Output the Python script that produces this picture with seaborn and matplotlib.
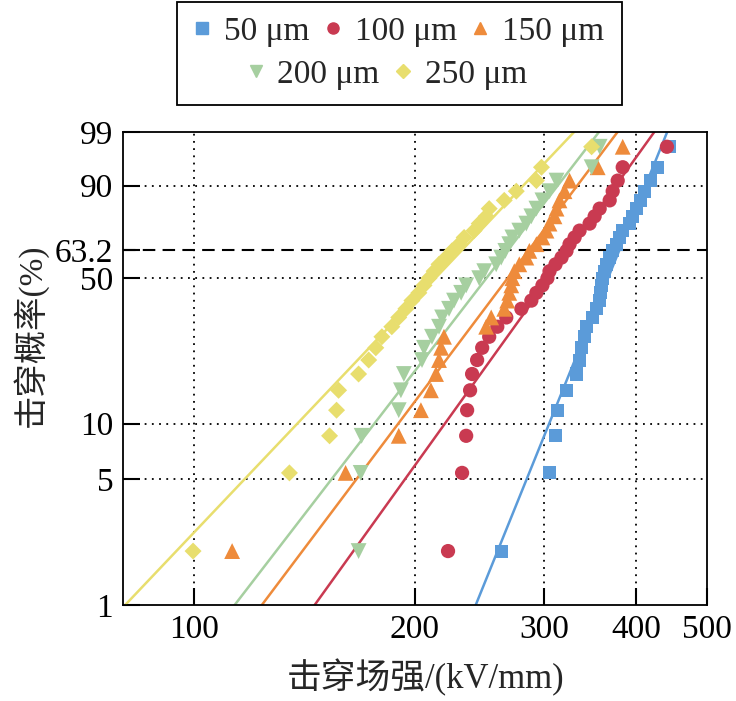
import numpy as np
import pandas as pd
import matplotlib
matplotlib.use("Agg")
import matplotlib.pyplot as plt
from matplotlib.lines import Line2D
from matplotlib.patches import Rectangle
import seaborn as sns

THICKNESS = ["50 μm", "100 μm", "150 μm", "200 μm", "250 μm"]
COLORS = ["#5B9BD9", "#C93A51", "#EE8B3B", "#A6CFA0", "#E8DE6E"]
MARKERS = ["s", "o", "^", "v", "D"]
MARKER_AREA = [88, 105, 130, 130, 75]

# 击穿概率 (%)，各组共用的秩
PROB = [2.0, 5.41, 8.60, 11.78, 14.97, 18.15, 21.34, 24.52, 27.71, 30.89,
        34.08, 37.26, 40.45, 43.63, 46.82, 50.00, 53.18, 56.37, 59.55, 62.74,
        65.92, 69.11, 72.29, 75.48, 78.66, 81.85, 85.03, 88.22, 91.40, 94.59,
        97.77]

# 击穿场强 (kV/mm)
E_50 = [262.2, 305.1, 310.9, 312.8, 321.8, 332.1, 335.3, 337.4, 340.6, 342.8,
        349.3, 353.8, 357.1, 358.3, 359.4, 360.5, 362.8, 365.1, 368.5, 372.0,
        376.8, 380.3, 383.9, 392.5, 396.3, 401.3, 406.4, 411.5, 419.4, 428.7,
        445.2]
E_100 = [221.9, 231.9, 234.9, 235.6, 237.8, 239.3, 243.1, 247.0, 252.5, 259.0,
         266.4, 279.3, 288.2, 292.8, 298.4, 303.1, 305.1, 310.9, 316.8, 321.8,
         324.9, 330.1, 335.3, 346.0, 351.5, 357.1, 368.5, 372.0, 377.9, 383.9,
         441.0]
E_150 = [112.7, 160.9, 190.1, 203.8, 210.3, 213.7, 215.7, 217.1, 219.1, 250.1,
         254.1, 264.7, 267.2, 268.9, 270.6, 271.5, 273.2, 277.5, 283.7, 286.4,
         292.8, 298.4, 302.2, 305.1, 309.9, 311.9, 314.8, 319.8, 324.9, 354.9,
         383.9]
E_200 = [167.6, 168.7, 169.2, 190.1, 191.4, 193.2, 204.5, 205.8, 211.0, 215.7,
         217.8, 222.6, 226.1, 231.2, 234.9, 244.7, 248.6, 258.1, 262.2, 265.6,
         268.9, 271.5, 277.5, 283.7, 288.2, 292.8, 298.4, 305.1, 311.9, 348.2,
         357.1]
E_250 = [99.7, 134.9, 153.0, 156.4, 157.4, 167.6, 173.0, 176.9, 180.3, 186.0,
         190.1, 194.4, 198.1, 202.5, 205.8, 209.0, 212.4, 215.7, 220.5, 224.7,
         229.7, 233.4, 240.8, 244.7, 250.1, 252.5, 264.7, 274.9, 292.8, 297.5,
         348.2]

# Weibull 拟合参数
SCALE = [380, 325, 286, 268, 232]
SHAPE = [10.2, 5.75, 5.49, 5.36, 4.35]

X_TICKS = [100, 200, 300, 400, 500]
Y_TICKS = [1, 5, 10, 50, 63.2, 90, 99]
Y_TICK_LABELS = ["1", "5", "10", "50", "63.2", "90", "99"]


def weibull_forward(p):
    p = np.clip(np.asarray(p, dtype=float), 1e-6, 100 - 1e-9)
    return np.log(-np.log(1 - p / 100))


def weibull_inverse(y):
    return 100 * (1 - np.exp(-np.exp(np.asarray(y, dtype=float))))


sns.set_theme(style="ticks")
plt.rcParams["font.family"] = ["Liberation Serif", "Noto Sans CJK SC"]
plt.rcParams["axes.unicode_minus"] = False

points = pd.DataFrame({
    "E": E_50 + E_100 + E_150 + E_200 + E_250,
    "P": PROB * 5,
    "thickness": [t for t in THICKNESS for _ in PROB],
})

fig = plt.figure(figsize=(7.36, 7.01), dpi=100)
ax = fig.add_axes([0.167, 0.137, 0.7935, 0.6747])
ax.set_xscale("log")
ax.set_yscale("function", functions=(weibull_forward, weibull_inverse))

for v in [5, 10, 50, 90]:
    ax.axhline(v, color="black", lw=1.3, ls=(0, (1, 3)), zorder=1)
for v in [100, 200, 300, 400]:
    ax.axvline(v, color="black", lw=1.3, ls=(0, (1, 3)), zorder=1)
ax.axhline(63.2, color="black", lw=1.5, ls=(0, (6, 3.5)), zorder=1)

fit_prob = np.array([0.5, 99.5])
for name, color, alpha, beta in zip(THICKNESS, COLORS, SCALE, SHAPE):
    fit_e = alpha * (-np.log(1 - fit_prob / 100)) ** (1 / beta)
    ax.plot(fit_e, fit_prob, color=color, lw=1.8, zorder=2)

for name, color, marker, area in zip(THICKNESS, COLORS, MARKERS, MARKER_AREA):
    sns.scatterplot(
        data=points[points["thickness"] == name],
        x="E",
        y="P",
        color=color,
        marker=marker,
        s=area,
        edgecolor="none",
        legend=False,
        zorder=3,
        ax=ax,
    )

ax.set_xlim(80, 500)
ax.set_ylim(1, 99)
ax.set_xticks(X_TICKS)
ax.set_xticklabels([str(v) for v in X_TICKS])
ax.xaxis.set_minor_locator(matplotlib.ticker.NullLocator())
ax.set_yticks(Y_TICKS)
ax.set_yticklabels(Y_TICK_LABELS)
ax.yaxis.set_minor_locator(matplotlib.ticker.NullLocator())
ax.tick_params(direction="in", length=12, width=1.5, labelsize=24, pad=7,
               colors="black")
for spine in ax.spines.values():
    spine.set_linewidth(1.3)
    spine.set_color("black")
    spine.set_visible(True)

ax.set_xlabel("击穿场强/(kV/mm)", fontsize=25, fontweight="medium")
ax.set_ylabel("击穿概率(%)", fontsize=24, fontweight="medium")
ax.xaxis.set_label_coords(0.518, -0.115)
ax.yaxis.set_label_coords(-0.128, 0.57)

handles = [
    Line2D([], [], ls="none", marker=m, color=c, markersize=ms)
    for m, c, ms in zip(MARKERS, COLORS, [8, 8, 9, 9, 7])
]
legend_kw = dict(frameon=False, fontsize=24, handlelength=0.6,
                 handletextpad=0.35, columnspacing=0.4, borderpad=0.1,
                 loc="center")
fig.legend(handles[:3], THICKNESS[:3], ncol=3,
           bbox_to_anchor=(0.541, 0.955), **legend_kw)
fig.legend(handles[3:], THICKNESS[3:], ncol=2,
           bbox_to_anchor=(0.525, 0.894), **legend_kw)
fig.patches.append(Rectangle((0.2405, 0.850), 0.6045, 0.147,
                             transform=fig.transFigure, fill=False,
                             edgecolor="black", lw=1.3))

fig.savefig("out.png", dpi=100, facecolor="white")
